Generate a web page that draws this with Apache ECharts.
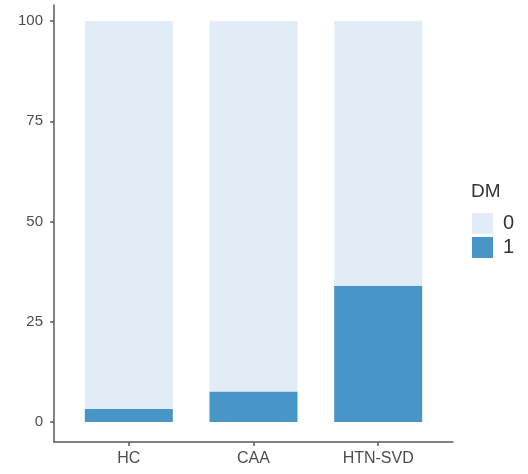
<!DOCTYPE html>
<html>
<head>
<meta charset="utf-8">
<script src="https://cdn.jsdelivr.net/npm/echarts@6/dist/echarts.min.js"></script>
<style>
  html, body { margin: 0; padding: 0; background: #fff; }
  #main { width: 528px; height: 474px; }
</style>
</head>
<body>
<div id="main"></div>
<script>
var categories = ['HC', 'CAA', 'HTN-SVD'];
var dm1 = [3.2, 7.6, 34.0];
var dm0 = [96.8, 92.4, 66.0];
var yTicks = [0, 25, 50, 75, 100];
var xPos = [1, 2, 3];

// value first, position second, so the stack goes on the value
function toPoints(vals) {
    var res = [];
    for (var i = 0; i < vals.length; i++) {
        res.push([vals[i], xPos[i]]);
    }
    return res;
}

var myChart = echarts.init(document.getElementById('main'));
var axisColor = '#5a5a5a';
var labelColor = '#4d4d4d';

var option = {
    animation: false,
    textStyle: { fontFamily: 'Arial, "Liberation Sans", sans-serif' },
    title: {
        text: 'DM',
        left: 471,
        top: 182,
        padding: 0,
        textStyle: { fontSize: 19, fontWeight: 'normal', color: '#333' }
    },
    legend: {
        data: ['0', '1'],
        orient: 'vertical',
        left: 472,
        top: 213,
        padding: 0,
        itemWidth: 21,
        itemHeight: 21,
        itemGap: 3,
        icon: 'rect',
        textStyle: { fontSize: 20, color: '#333', padding: [0, 0, 0, 5] }
    },
    grid: { left: 54, right: 75, top: 5, bottom: 32 },
    xAxis: {
        type: 'value',
        min: 0.4,
        max: 3.6,
        splitLine: { show: false },
        axisLine: { show: true, onZero: false, lineStyle: { color: axisColor, width: 1.5 } },
        axisTick: { show: true, length: 4, customValues: xPos, lineStyle: { color: axisColor, width: 1.5 } },
        axisLabel: {
            customValues: xPos,
            margin: 9,
            fontSize: 16,
            color: labelColor,
            formatter: function (v) { return categories[Math.round(v) - 1]; }
        }
    },
    yAxis: {
        type: 'value',
        min: -5,
        max: 104,
        splitLine: { show: false },
        axisLine: { show: true, onZero: false, lineStyle: { color: axisColor, width: 1.5 } },
        axisTick: { show: true, length: 4, customValues: yTicks, lineStyle: { color: axisColor, width: 1.5 } },
        axisLabel: { customValues: yTicks, margin: 11, fontSize: 15, color: labelColor }
    },
    series: [
        {
            name: '1',
            type: 'bar',
            stack: 'dm',
            barWidth: 88,
            encode: { x: 1, y: 0 },
            itemStyle: { color: '#4896c8' },
            data: toPoints(dm1)
        },
        {
            name: '0',
            type: 'bar',
            stack: 'dm',
            barWidth: 88,
            encode: { x: 1, y: 0 },
            itemStyle: { color: '#e1ecf7' },
            data: toPoints(dm0)
        }
    ]
};
myChart.setOption(option);
</script>
</body>
</html>
